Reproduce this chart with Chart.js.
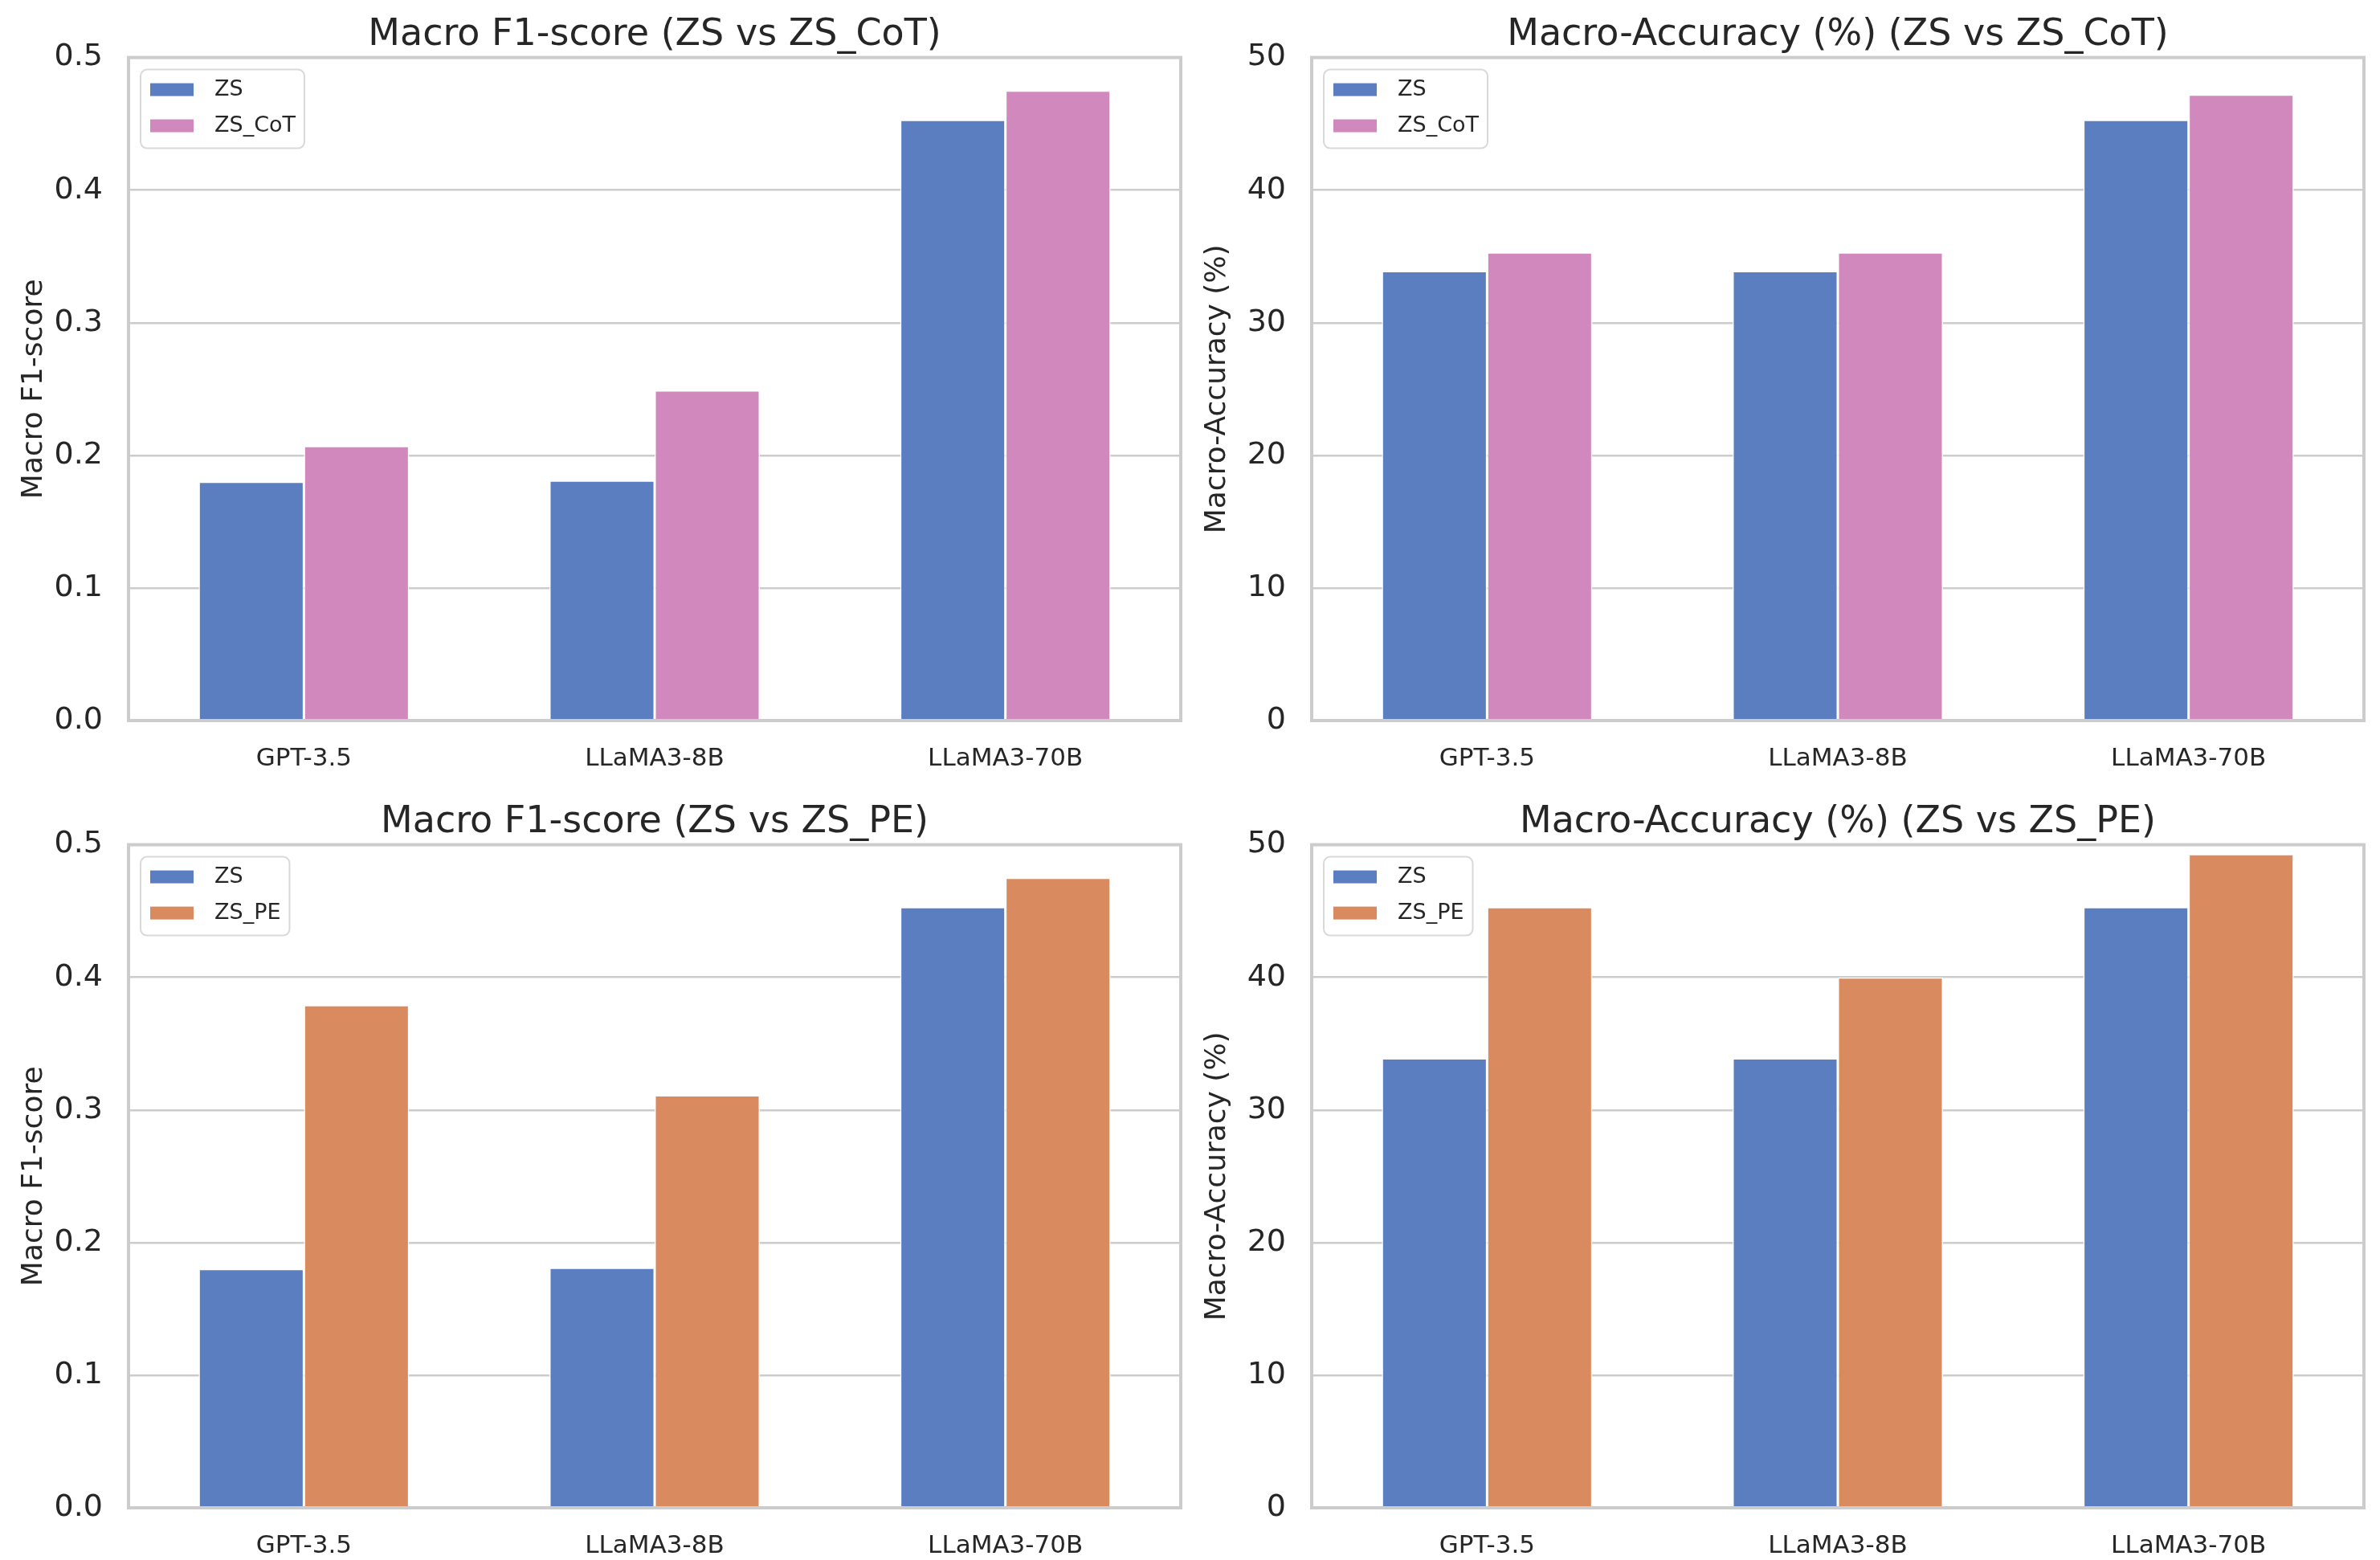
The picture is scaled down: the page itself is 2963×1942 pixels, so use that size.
<!DOCTYPE html>
<html>
<head>
<meta charset="utf-8">
<script src="https://cdn.jsdelivr.net/npm/chart.js@4.4.1/dist/chart.umd.min.js"></script>
<style>
  html, body { margin: 0; padding: 0; background: #fff; overflow: hidden; }
  #wrap { position: relative; width: 2963px; height: 1942px; }
  canvas { position: absolute; }
</style>
</head>
<body>
<div id="wrap">
  <canvas id="f1Cot" width="1480" height="962" style="left:0px;top:0px"></canvas>
  <canvas id="accCot" width="1480" height="962" style="left:1473px;top:0px"></canvas>
  <canvas id="f1Pe" width="1480" height="962" style="left:0px;top:980px"></canvas>
  <canvas id="accPe" width="1480" height="962" style="left:1473px;top:980px"></canvas>
</div>
<script>
const models = ["GPT-3.5", "LLaMA3-8B", "LLaMA3-70B"];

const f1ZS = [0.180, 0.181, 0.453];
const f1CoT = [0.207, 0.249, 0.475];
const f1PE = [0.379, 0.311, 0.475];

const accZS = [33.9, 33.9, 45.3];
const accCoT = [35.3, 35.3, 47.2];
const accPE = [45.3, 40.0, 49.3];

const f1Ticks = [0.0, 0.1, 0.2, 0.3, 0.4, 0.5];
const accTicks = [0, 10, 20, 30, 40, 50];

const BLUE = "#5a7ec0";
const PINK = "#d189bd";
const ORANGE = "#d98a5f";
const TEXT = "#262626";
const GRID = "#cccccc";

Chart.defaults.font.family = "'DejaVu Sans', sans-serif";
Chart.defaults.color = TEXT;

// axes frame on all four sides, like the seaborn spines
const framePlugin = {
  id: "frame",
  afterDatasetsDraw(chart) {
    const {ctx, chartArea: a} = chart;
    ctx.save();
    ctx.strokeStyle = GRID;
    ctx.lineWidth = 4;
    ctx.strokeRect(a.left, a.top, a.right - a.left, a.bottom - a.top);
    ctx.restore();
  }
};

// boxed legend in the upper left corner of the plot
const boxLegend = {
  id: "boxLegend",
  afterDraw(chart) {
    const {ctx, chartArea: a} = chart;
    const sets = chart.data.datasets;
    ctx.save();
    ctx.font = "27px 'DejaVu Sans'";
    const textW = Math.max(...sets.map(d => ctx.measureText(d.label).width));
    const x = a.left + 15, y = a.top + 15;
    const w = 92 + textW + 11, h = 98;
    ctx.beginPath();
    ctx.roundRect(x, y, w, h, 8);
    ctx.fillStyle = "rgba(255,255,255,0.85)";
    ctx.fill();
    ctx.strokeStyle = "#d9d9d9";
    ctx.lineWidth = 2;
    ctx.stroke();
    sets.forEach((d, i) => {
      const cy = y + 25 + i * 45;
      ctx.fillStyle = d.backgroundColor;
      ctx.fillRect(x + 12, cy - 8, 54, 16);
      ctx.fillStyle = TEXT;
      ctx.textBaseline = "middle";
      ctx.textAlign = "left";
      ctx.fillText(d.label, x + 92, cy);
    });
    ctx.restore();
  }
};

function dataset(label, data, color) {
  return {
    label: label,
    data: data,
    backgroundColor: color,
    borderColor: "#ffffff",
    borderWidth: 1.5,
    categoryPercentage: 0.6,
    barPercentage: 1.0
  };
}

function makeChart(id, title, yLabel, ticks, decimals, sets) {
  return new Chart(document.getElementById(id).getContext("2d"), {
    type: "bar",
    data: {
      labels: models,
      datasets: sets
    },
    plugins: [framePlugin, boxLegend],
    options: {
      responsive: false,
      devicePixelRatio: 1,
      animation: false,
      layout: {
        padding: {left: 0, right: 10, top: 0, bottom: 0}
      },
      plugins: {
        legend: {display: false},
        tooltip: {enabled: false},
        title: {
          display: true,
          fullSize: false,
          text: title,
          color: TEXT,
          font: {size: 46, weight: "normal", lineHeight: 1.1},
          padding: {top: 19, bottom: 2}
        }
      },
      scales: {
        x: {
          grid: {display: false},
          border: {display: false},
          ticks: {
            color: TEXT,
            font: {size: 31},
            padding: 21
          },
          afterFit(scale) {
            scale.height = 65;
          }
        },
        y: {
          min: ticks[0],
          max: ticks[ticks.length - 1],
          afterBuildTicks(scale) {
            scale.ticks = ticks.map(v => ({value: v}));
          },
          grid: {
            color: GRID,
            lineWidth: 2.5,
            drawTicks: false
          },
          border: {display: false},
          ticks: {
            color: TEXT,
            font: {size: 38},
            padding: 32,
            callback: v => v.toFixed(decimals)
          },
          title: {
            display: true,
            text: yLabel,
            color: TEXT,
            font: {size: 36, lineHeight: 1.2},
            padding: {top: 21, bottom: 0}
          },
          afterFit(scale) {
            scale.width = 160;
          }
        }
      }
    }
  });
}

makeChart("f1Cot", "Macro F1-score (ZS vs ZS_CoT)", "Macro F1-score", f1Ticks, 1,
  [dataset("ZS", f1ZS, BLUE), dataset("ZS_CoT", f1CoT, PINK)]);
makeChart("accCot", "Macro-Accuracy (%) (ZS vs ZS_CoT)", "Macro-Accuracy (%)", accTicks, 0,
  [dataset("ZS", accZS, BLUE), dataset("ZS_CoT", accCoT, PINK)]);
makeChart("f1Pe", "Macro F1-score (ZS vs ZS_PE)", "Macro F1-score", f1Ticks, 1,
  [dataset("ZS", f1ZS, BLUE), dataset("ZS_PE", f1PE, ORANGE)]);
makeChart("accPe", "Macro-Accuracy (%) (ZS vs ZS_PE)", "Macro-Accuracy (%)", accTicks, 0,
  [dataset("ZS", accZS, BLUE), dataset("ZS_PE", accPE, ORANGE)]);
</script>
</body>
</html>
